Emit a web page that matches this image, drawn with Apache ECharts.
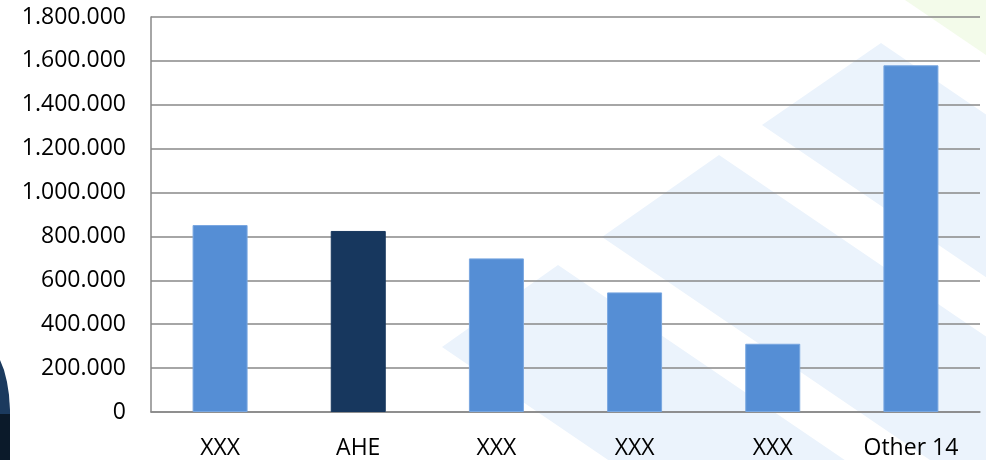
<!DOCTYPE html>
<html>
<head>
<meta charset="utf-8">
<script src="https://cdn.jsdelivr.net/npm/echarts@6/dist/echarts.min.js"></script>
<style>
  html, body { margin: 0; padding: 0; background: #ffffff; }
  #chart { width: 986px; height: 460px; }
</style>
</head>
<body>
<div id="chart"></div>
<script>
// Categories and values
const categories = ['XXX', 'AHE', 'XXX', 'XXX', 'XXX', 'Other 14'];
const values = [852000, 825000, 700000, 545000, 311000, 1580000];
const highlightIndex = 1; // AHE drawn in the dark colour

// Value axis range
const yMin = 0;
const yMax = 1800000;
const yStep = 200000;

const lightBlue = '#558ed5';
const darkBlue = '#17375e';
const paleBlue = '#ebf3fc';

function formatThousands(v) {
  return String(Math.round(v)).replace(/\B(?=(\d{3})+(?!\d))/g, '.');
}

// Decorative background: pale diagonal bands running down to the right,
// each with a pointed upper-left end (apex and left corner given)
function band(ax, ay, bx, by) {
  const dx = 1000, dy = 680;
  return {
    type: 'polygon',
    silent: true,
    z: -10,
    shape: { points: [[ax, ay], [bx, by], [bx + dx, by + dy], [ax + dx, ay + dy]] },
    style: { fill: paleBlue }
  };
}

const chart = echarts.init(document.getElementById('chart'), null, { renderer: 'canvas' });

chart.setOption({
  backgroundColor: '#ffffff',
  animation: false,
  graphic: [
    band(881, 43, 762, 125),
    band(719, 155, 602, 237),
    band(558, 265, 442, 347),
    {
      type: 'polygon', silent: true, z: -10,
      shape: { points: [[905, 0], [986, 0], [986, 55]] },
      style: { fill: '#f3fbea' }
    },
    {
      type: 'polygon', silent: true, z: -5,
      shape: { points: [[0, 360], [4, 370], [7, 382], [9, 395], [10, 410], [10, 460], [0, 460]] },
      style: { fill: '#1b3a5e' }
    },
    {
      type: 'rect', silent: true, z: -4,
      shape: { x: 0, y: 414, width: 10, height: 46 },
      style: { fill: '#0b1a2a' }
    }
  ],
  grid: {
    left: 151,
    right: 6,
    top: 17,
    bottom: 47,
    containLabel: false
  },
  xAxis: {
    type: 'category',
    data: categories,
    axisLine: { show: true, lineStyle: { color: '#888888', width: 1.5 } },
    axisTick: { show: false },
    axisLabel: {
      color: '#000000',
      fontFamily: 'Open Sans',
      fontSize: 23,
      margin: 25
    }
  },
  yAxis: {
    type: 'value',
    min: yMin,
    max: yMax,
    interval: yStep,
    axisLine: { show: true, lineStyle: { color: '#888888', width: 1.5 } },
    axisTick: { show: false },
    splitLine: { show: true, lineStyle: { color: '#888888', width: 1.5 } },
    axisLabel: {
      color: '#000000',
      fontFamily: 'Open Sans',
      fontSize: 23,
      margin: 25,
      formatter: formatThousands
    }
  },
  series: [{
    type: 'bar',
    barWidth: 55,
    data: values.map((v, i) => ({
      value: v,
      itemStyle: {
        color: i === highlightIndex ? darkBlue : lightBlue,
        borderColor: i === highlightIndex ? darkBlue : '#79a7e0',
        borderWidth: 1
      }
    }))
  }]
});
</script>
</body>
</html>
